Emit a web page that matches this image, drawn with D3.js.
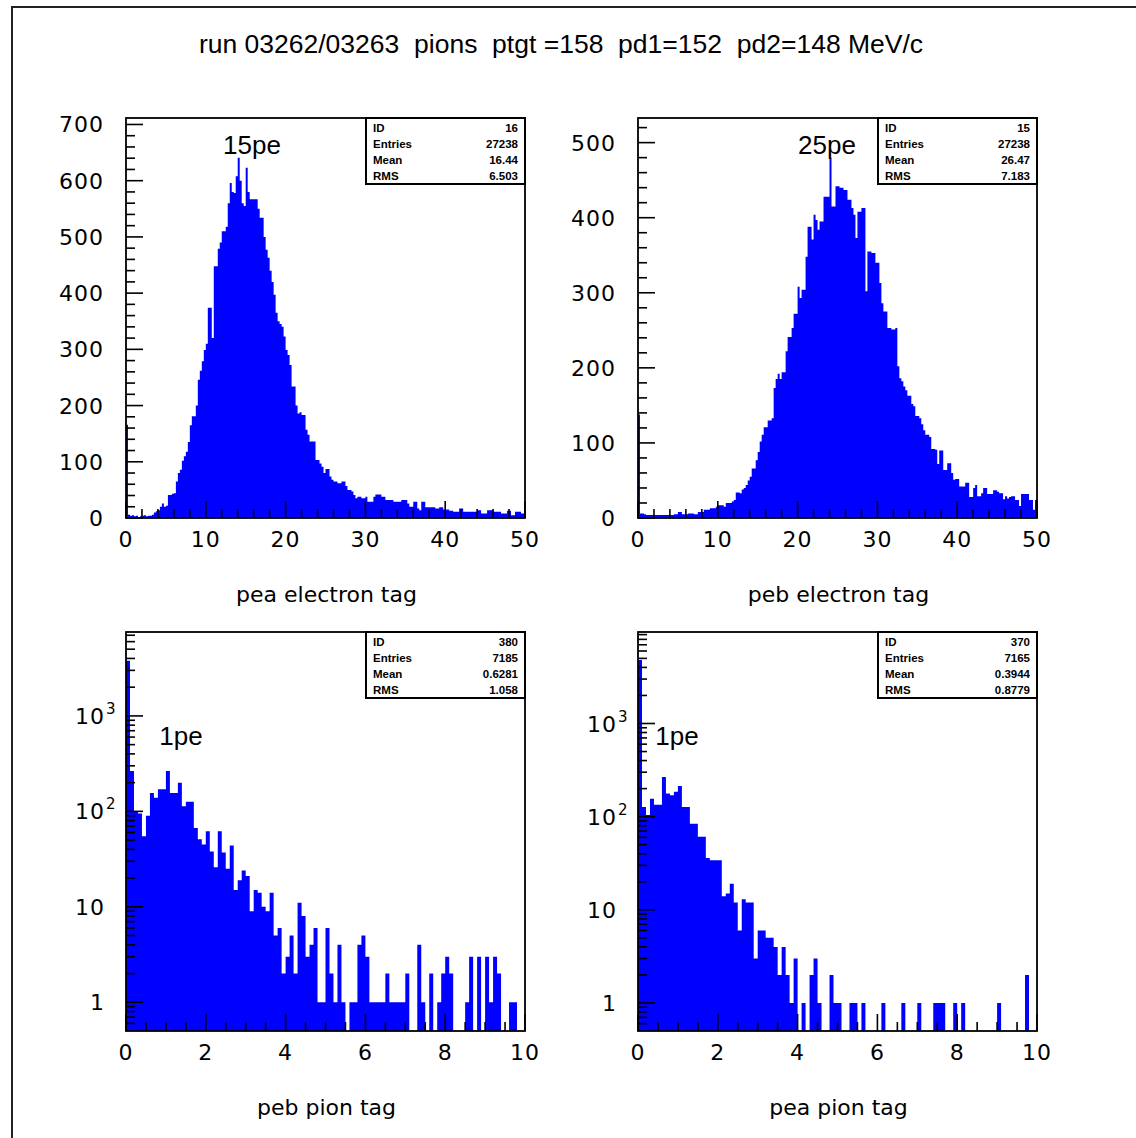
<!DOCTYPE html>
<html>
<head>
<meta charset="utf-8">
<script src="https://cdn.jsdelivr.net/npm/d3@7"></script>
<style>
  html, body { margin: 0; padding: 0; background: #fff; }
  svg { display: block; }
  .tick-label { font-family: "DejaVu Sans", sans-serif; font-size: 22px; fill: #000; letter-spacing: 1px; }
  .axis-title { font-family: "DejaVu Sans", sans-serif; font-size: 22px; fill: #000; }
  .stat { font-family: "Liberation Sans", Arial, sans-serif; font-size: 11.5px; font-weight: bold; fill: #000; }
  .note { font-family: "Liberation Sans", Arial, sans-serif; font-size: 26px; fill: #000; }
  .title { font-family: "Liberation Sans", Arial, sans-serif; font-size: 26.5px; fill: #000; white-space: pre; }
</style>
</head>
<body>
<svg id="chart" width="1136" height="1138"></svg>
<script>
// ---- run header ----
const titleText = "run 03262/03263  pions  ptgt =158  pd1=152  pd2=148 MeV/c";

// ---- stats box row names ----
const statNames = ["ID", "Entries", "Mean", "RMS"];

// ---- pea, electron tag: 200 bins over 0..50 ----
const peaElectron = [
  166, 6, 4, 5, 3, 4, 2, 3, 4, 5, 3, 4,
  4, 6, 10, 12, 14, 20, 26, 20, 22,
  41, 41, 43, 44, 65, 80, 86, 102, 110, 118,
  135, 165, 181, 181, 200, 246, 262, 279, 299, 310,
  374, 374, 320, 448, 448, 479, 490, 510, 510, 518,
  560, 596, 580, 578, 608, 641, 600, 560, 555, 623,
  580, 567, 567, 567, 567, 550, 534, 534, 500, 477,
  463, 440, 420, 397, 365, 350, 345, 340, 323, 299,
  290, 272, 234, 234, 200, 186, 188, 183, 183, 157,
  148, 136, 136, 136, 103, 103, 97, 91, 80, 87,
  87, 74, 68, 65, 65, 62, 62, 65, 65, 57,
  50, 50, 47, 41, 35, 38, 38, 35, 35, 38,
  29, 29, 29, 38, 42, 42, 42, 38, 38, 32,
  32, 32, 32, 29, 29, 29, 29, 32, 32, 32,
  26, 20, 20, 29, 29, 17, 14, 29, 29, 19,
  19, 19, 19, 19, 17, 17, 19, 19, 15, 15,
  15, 13, 13, 11, 11, 11, 17, 17, 11, 11,
  11, 11, 11, 11, 11, 14, 14, 8, 8, 8,
  14, 14, 14, 11, 11, 11, 11, 8, 8, 8,
  13, 13, 5, 5, 11, 11, 11, 8, 8
];

// ---- peb, electron tag: 200 bins over 0..50 ----
const pebElectron = [
  138,
  6, 6, 5, 4, 4, 4, 4, 4, 4, 4,
  4, 4, 4, 4, 4, 4, 4, 5, 5, 8,
  8, 5, 5, 5, 6, 6, 6, 5, 5, 8,
  8, 8, 11, 11, 11, 13, 13, 13, 15, 17,
  17, 17, 15, 20, 20, 20, 22, 24, 34, 34,
  33, 38, 40, 44, 50, 55, 66, 66, 77, 88,
  102, 111, 121, 121, 130, 130, 133, 173, 185, 192,
  185, 194, 194, 222, 241, 241, 253, 272, 272, 308,
  293, 304, 304, 348, 388, 388, 371, 404, 397, 384,
  395, 395, 428, 428, 428, 480, 415, 415, 442, 442,
  440, 440, 437, 437, 424, 424, 413, 404, 373, 408,
  408, 413, 413, 302, 355, 355, 353, 353, 340, 340,
  313, 286, 275, 275, 253, 253, 251, 251, 253, 202,
  186, 182, 175, 170, 163, 163, 152, 149, 136, 136,
  133, 125, 117, 111, 111, 108, 92, 92, 91, 72,
  90, 90, 64, 64, 73, 73, 60, 51, 52, 52,
  42, 42, 42, 47, 47, 28, 28, 40, 44, 29,
  29, 33, 40, 40, 32, 32, 32, 37, 37, 35,
  33, 33, 25, 29, 26, 28, 29, 29, 24, 24,
  16, 32, 32, 32, 32, 24, 24, 11, 24
];

// ---- peb, pion tag: 100 bins over 0..10 ----
const pebPion = [
  3785, 265, 101, 95, 55, 90, 156, 139, 170, 170,
  265, 156, 156, 200, 113, 126, 126, 67, 51, 45,
  62, 38, 26, 62, 37, 25, 44, 15, 19, 24,
  21, 9, 15, 14, 10, 9, 14, 5, 6, 2,
  3, 5, 2, 11, 8, 3, 4, 6, 1, 1,
  6, 2, 1, 4, 1, 0, 1, 1, 4, 5,
  3, 1, 1, 1, 1, 2, 1, 1, 1, 1,
  2, 0, 0, 4, 1, 0, 2, 0, 1, 2,
  3, 2, 0, 0, 0, 1, 3, 0, 3, 0,
  3, 1, 3, 2, 0, 0, 1, 1, 0, 0
];

// ---- pea, pion tag: 100 bins over 0..10 ----
const peaPion = [
  4800, 127, 104, 156, 134, 134, 266, 177, 170, 185,
  214, 127, 127, 84, 84, 61, 61, 36, 34, 34,
  34, 14, 15, 19, 12, 6, 13, 12, 12, 3,
  6, 6, 5, 5, 4, 2, 4, 2, 1, 3,
  0, 1, 0, 2, 3, 1, 0, 0, 2, 1,
  1, 0, 0, 1, 1, 0, 1, 0, 0, 0,
  0, 1, 0, 0, 0, 0, 1, 0, 0, 0,
  1, 0, 0, 0, 1, 1, 1, 0, 0, 1,
  0, 1, 0, 0, 0, 0, 0, 0, 0, 0,
  1, 0, 0, 0, 0, 0, 0, 2, 0, 0
];

// ---- stats box values ----
const statsPeaElectron = ["16", "27238", "16.44", "6.503"];
const statsPebElectron = ["15", "27238", "26.47", "7.183"];
const statsPebPion = ["380", "7185", "0.6281", "1.058"];
const statsPeaPion = ["370", "7165", "0.3944", "0.8779"];

// ---- axis ticks and titles ----
const electronXTicks = [0, 10, 20, 30, 40, 50];
const pionXTicks = [0, 2, 4, 6, 8, 10];
const peaElectronYTicks = [0, 100, 200, 300, 400, 500, 600, 700];
const pebElectronYTicks = [0, 100, 200, 300, 400, 500];
const logYTicks = [1, 10, 100, 1000];
const logYBase = ["1", "10", "10", "10"];
const logYExp = ["", "", "2", "3"];
const xTitles = ["pea electron tag", "peb electron tag", "peb pion tag", "pea pion tag"];
const notes = ["15pe", "25pe", "1pe", "1pe"];

const W = 1136, H = 1138;
const svg = d3.select("#chart");

// page frame (left and top edges)
svg.append("path")
  .attr("d", `M12,${H} V7 H${W}`)
  .attr("fill", "none").attr("stroke", "#222").attr("stroke-width", 2);

svg.append("text").attr("class", "title")
  .attr("x", 561).attr("y", 53).attr("text-anchor", "middle")
  .text(titleText);

const panels = [
  { data: peaElectron, xDomain: [0, 50], xTicks: electronXTicks, xMinor: 2,
    log: false, yTicks: peaElectronYTicks, yMinor: 20,
    box: { left: 126, right: 525, top: 118, bottom: 518 },
    stats: statsPeaElectron, title: xTitles[0], note: notes[0], noteX: 252, noteY: 154 },
  { data: pebElectron, xDomain: [0, 50], xTicks: electronXTicks, xMinor: 2,
    log: false, yTicks: pebElectronYTicks, yMinor: 20,
    box: { left: 638, right: 1037, top: 118, bottom: 518 },
    stats: statsPebElectron, title: xTitles[1], note: notes[1], noteX: 827, noteY: 154 },
  { data: pebPion, xDomain: [0, 10], xTicks: pionXTicks, xMinor: 0.5,
    log: true,
    box: { left: 126, right: 525, top: 632, bottom: 1031 },
    stats: statsPebPion, title: xTitles[2], note: notes[2], noteX: 181, noteY: 745 },
  { data: peaPion, xDomain: [0, 10], xTicks: pionXTicks, xMinor: 0.5,
    log: true,
    box: { left: 638, right: 1037, top: 632, bottom: 1031 },
    stats: statsPeaPion, title: xTitles[3], note: notes[3], noteX: 677, noteY: 745 }
];

const MAJOR = 17, MINOR = 9;

function drawPanel(p) {
  const b = p.box;
  const g = svg.append("g");
  const x = d3.scaleLinear().domain(p.xDomain).range([b.left, b.right]);
  const y = p.log
    ? d3.scaleLog().domain([0.5, 2 * d3.max(p.data)]).range([b.bottom, b.top])
    : d3.scaleLinear().domain([0, 1.11 * d3.max(p.data)]).range([b.bottom, b.top]);
  const yBase = y.domain()[0];

  // histogram as a filled step outline
  const bw = (p.xDomain[1] - p.xDomain[0]) / p.data.length;
  const steps = p.data.map((v, i) => ({ lo: p.xDomain[0] + i * bw, v }));
  steps.push({ lo: p.xDomain[1], v: p.data[p.data.length - 1] });
  const area = d3.area()
    .curve(d3.curveStepAfter)
    .x(d => x(d.lo))
    .y0(y(yBase))
    .y1(d => d.v > 0 ? y(d.v) : y(yBase));
  g.append("path").datum(steps).attr("d", area).attr("fill", "#0000ff");

  // y ticks
  let yMajor, yMinorVals;
  if (p.log) {
    yMajor = logYTicks;
    yMinorVals = [];
    const [lo, hi] = y.domain();
    for (let e = -1; e <= 4; e++) {
      for (let k = 2; k <= 9; k++) {
        const v = k * Math.pow(10, e);
        if (v > lo * 1.0001 && v <= hi) yMinorVals.push(v);
      }
    }
  } else {
    yMajor = p.yTicks;
    yMinorVals = d3.range(0, y.domain()[1], p.yMinor).filter(v => !yMajor.includes(v));
  }
  const tickG = g.append("g").attr("stroke", "#000").attr("stroke-width", 1.6);
  tickG.selectAll(".ymaj").data(yMajor).join("line")
    .attr("x1", b.left).attr("x2", b.left + MAJOR)
    .attr("y1", d => y(d)).attr("y2", d => y(d));
  tickG.selectAll(".ymin").data(yMinorVals).join("line")
    .attr("x1", b.left).attr("x2", b.left + MINOR)
    .attr("y1", d => y(d)).attr("y2", d => y(d));

  // x ticks
  const xMinorVals = d3.range(p.xDomain[0], p.xDomain[1], p.xMinor).filter(v => !p.xTicks.includes(v));
  tickG.selectAll(".xmaj").data(p.xTicks).join("line")
    .attr("x1", d => x(d)).attr("x2", d => x(d))
    .attr("y1", b.bottom).attr("y2", b.bottom - MAJOR);
  tickG.selectAll(".xmin").data(xMinorVals).join("line")
    .attr("x1", d => x(d)).attr("x2", d => x(d))
    .attr("y1", b.bottom).attr("y2", b.bottom - MINOR);

  // frame
  g.append("rect")
    .attr("x", b.left).attr("y", b.top)
    .attr("width", b.right - b.left).attr("height", b.bottom - b.top)
    .attr("fill", "none").attr("stroke", "#000").attr("stroke-width", 1.8);

  // x tick labels
  g.selectAll(".xl").data(p.xTicks).join("text")
    .attr("class", "tick-label")
    .attr("x", d => x(d)).attr("y", b.bottom + 29)
    .attr("text-anchor", "middle")
    .text(d => d);

  // y tick labels
  if (p.log) {
    logYTicks.forEach((v, i) => {
      const ty = y(v);
      g.append("text").attr("class", "tick-label")
        .attr("x", b.left - 21).attr("y", ty + 8)
        .attr("text-anchor", "end").text(logYBase[i]);
      if (logYExp[i]) {
        g.append("text").attr("class", "tick-label")
          .style("font-size", "15px")
          .attr("x", b.left - 20).attr("y", ty - 2)
          .text(logYExp[i]);
      }
    });
  } else {
    g.selectAll(".yl").data(p.yTicks).join("text")
      .attr("class", "tick-label")
      .attr("x", b.left - 22).attr("y", d => y(d) + 8)
      .attr("text-anchor", "end")
      .text(d => d);
  }

  // axis title
  g.append("text").attr("class", "axis-title")
    .attr("x", (b.left + b.right) / 2 + 1).attr("y", b.bottom + 84)
    .attr("text-anchor", "middle").text(p.title);

  // peak annotation
  g.append("text").attr("class", "note")
    .attr("x", p.noteX).attr("y", p.noteY)
    .attr("text-anchor", "middle").text(p.note);

  // stats box
  const sw = 159, sh = 66;
  const sx = b.right - sw;
  g.append("rect")
    .attr("x", sx).attr("y", b.top)
    .attr("width", sw).attr("height", sh)
    .attr("fill", "#fff").attr("stroke", "#000").attr("stroke-width", 2);
  statNames.forEach((name, i) => {
    const ty = b.top + 14 + i * 16;
    g.append("text").attr("class", "stat")
      .attr("x", sx + 7).attr("y", ty).text(name);
    g.append("text").attr("class", "stat")
      .attr("x", b.right - 7).attr("y", ty)
      .attr("text-anchor", "end").text(p.stats[i]);
  });
}

panels.forEach(drawPanel);
</script>
</body>
</html>
